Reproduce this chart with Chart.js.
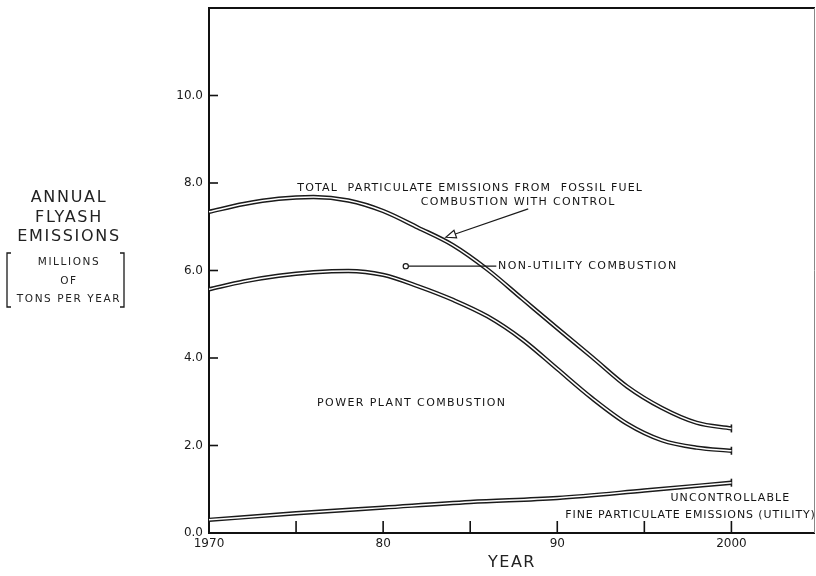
<!doctype html>
<html lang="en">
<head>
  <meta charset="utf-8">
  <title>Annual flyash emissions</title>
  <script src="https://cdn.jsdelivr.net/npm/chart.js@4/dist/chart.umd.min.js"></script>
  <style>
    html, body { margin: 0; padding: 0; background: #fff; overflow: hidden; }
    .grafico { position: relative; width: 816px; height: 576px; }
  </style>
</head>
<body>
<div class="grafico">
  <canvas id="myChart" width="816" height="576"></canvas>
</div>

<script>
// years sampled along the curves
var years = [1970, 1972, 1974, 1976, 1978, 1980, 1982, 1984, 1986, 1988, 1990, 1992, 1994, 1996, 1998, 2000];
// total particulate emissions from fossil fuel combustion with control
var totalControl = [7.34, 7.52, 7.64, 7.68, 7.6, 7.36, 6.98, 6.58, 6.02, 5.35, 4.68, 4.02, 3.35, 2.86, 2.52, 2.39];
// power plant combustion (lower boundary of non-utility band)
var powerPlant = [5.57, 5.75, 5.88, 5.96, 5.99, 5.9, 5.64, 5.33, 4.95, 4.42, 3.75, 3.08, 2.5, 2.12, 1.95, 1.88];
// uncontrollable fine particulate emissions (utility)
var fineYears = [1970, 1975, 1980, 1985, 1990, 1995, 2000];
var fineUtility = [0.3, 0.45, 0.58, 0.71, 0.8, 0.97, 1.15];

var xTicks = [1970, 1975, 1980, 1985, 1990, 1995, 2000];
var yTicks = [0, 2, 4, 6, 8, 10];

function pts(xs, ys) {
  return xs.map(function (x, i) { return {x: x, y: ys[i]}; });
}

// each curve is drawn as a double stroke: dark outer line with a white core on top
function doubleLine(data) {
  var last = data.length - 1;
  return [{
    data: data,
    order: 1,
    borderColor: '#1a1a1a',
    borderWidth: 4.4,
    tension: 0.4,
    cubicInterpolationMode: 'monotone',
    pointStyle: 'line',
    rotation: 90,
    pointBorderColor: '#1a1a1a',
    pointBorderWidth: 1.6,
    pointRadius: function (c) { return c.dataIndex === last ? 4 : 0; },
  }, {
    data: data,
    order: 0,
    borderColor: '#ffffff',
    borderWidth: 1.5,
    tension: 0.4,
    cubicInterpolationMode: 'monotone',
    pointRadius: 0,
  }];
}

function txt(ctx, s, x, y, align, font, spacing) {
  ctx.font = font;
  ctx.letterSpacing = spacing || '0px';
  ctx.textAlign = align;
  ctx.textBaseline = 'middle';
  ctx.fillText(s, x, y);
}

// frame of the plot and the inward tick marks
const frame = {
  id: 'frame',
  beforeDatasetsDraw(chart) {
    const {ctx, chartArea: a, scales: {x, y}} = chart;
    ctx.save();
    ctx.strokeStyle = '#111';
    ctx.lineWidth = 2;
    ctx.beginPath();
    ctx.moveTo(a.right, a.top);
    ctx.lineTo(a.left, a.top);
    ctx.lineTo(a.left, a.bottom);
    ctx.lineTo(a.right, a.bottom);
    ctx.stroke();
    ctx.strokeStyle = '#888';
    ctx.lineWidth = 1;
    ctx.beginPath();
    ctx.moveTo(a.right - 0.5, a.top);
    ctx.lineTo(a.right - 0.5, a.bottom);
    ctx.stroke();

    ctx.strokeStyle = '#111';
    ctx.lineWidth = 1.6;
    x.ticks.forEach(function (t) {
      if (t.value <= x.min) return;
      const px = x.getPixelForValue(t.value);
      ctx.beginPath(); ctx.moveTo(px, a.bottom); ctx.lineTo(px, a.bottom - 12); ctx.stroke();
    });
    y.ticks.forEach(function (t) {
      if (t.value <= y.min) return;
      const py = y.getPixelForValue(t.value);
      ctx.beginPath(); ctx.moveTo(a.left, py); ctx.lineTo(a.left + 9, py); ctx.stroke();
    });
    ctx.restore();
  },
  afterDraw(chart) {
    const {ctx, chartArea: a, scales: {x, y}} = chart;
    const f = '11px "DejaVu Sans"';
    ctx.save();
    ctx.fillStyle = '#151515';
    ctx.strokeStyle = '#1a1a1a';

    // labels inside the plot
    txt(ctx, 'TOTAL  PARTICULATE EMISSIONS FROM  FOSSIL FUEL', x.getPixelForValue(1985.0), y.getPixelForValue(7.89), 'center', f, '1.2px');
    txt(ctx, 'COMBUSTION WITH CONTROL', x.getPixelForValue(1987.76), y.getPixelForValue(7.57), 'center', f, '1.3px');
    txt(ctx, 'NON-UTILITY COMBUSTION', x.getPixelForValue(1986.6), y.getPixelForValue(6.1), 'left', f, '1.4px');
    txt(ctx, 'POWER PLANT COMBUSTION', x.getPixelForValue(1981.64), y.getPixelForValue(2.96), 'center', f, '1.4px');
    txt(ctx, 'UNCONTROLLABLE', x.getPixelForValue(1996.5), y.getPixelForValue(0.8), 'left', f, '1.1px');
    txt(ctx, 'FINE PARTICULATE EMISSIONS (UTILITY)', x.getPixelForValue(1990.46), y.getPixelForValue(0.41), 'left', f, '0.9px');

    // pointer from the open circle to the non-utility label
    const ox = x.getPixelForValue(1981.3), oy = y.getPixelForValue(6.1);
    ctx.lineWidth = 1.2;
    ctx.beginPath(); ctx.arc(ox, oy, 2.6, 0, Math.PI * 2); ctx.stroke();
    ctx.beginPath(); ctx.moveTo(ox + 2.6, oy); ctx.lineTo(x.getPixelForValue(1986.5), oy); ctx.stroke();

    // arrow from the label down to the total curve
    const sx = x.getPixelForValue(1988.33), sy = y.getPixelForValue(7.41);
    const tx = x.getPixelForValue(1983.6), ty = y.getPixelForValue(6.76);
    const ang = Math.atan2(ty - sy, tx - sx);
    const hl = 10, hw = 4;
    const bx = tx - Math.cos(ang) * hl, by = ty - Math.sin(ang) * hl;
    ctx.beginPath(); ctx.moveTo(sx, sy); ctx.lineTo(bx, by); ctx.stroke();
    ctx.beginPath();
    ctx.moveTo(tx, ty);
    ctx.lineTo(bx + Math.sin(ang) * hw, by - Math.cos(ang) * hw);
    ctx.lineTo(bx - Math.sin(ang) * hw, by + Math.cos(ang) * hw);
    ctx.closePath();
    ctx.stroke();

    // axis titles
    const cx = 69;
    ctx.fillStyle = '#222';
    txt(ctx, 'ANNUAL', cx, 198, 'center', '16px "DejaVu Sans"', '1.7px');
    txt(ctx, 'FLYASH', cx, 218, 'center', '16px "DejaVu Sans"', '1.7px');
    txt(ctx, 'EMISSIONS', cx, 237, 'center', '16px "DejaVu Sans"', '1.7px');
    txt(ctx, 'MILLIONS', cx, 262, 'center', '10.5px "DejaVu Sans"', '1.6px');
    txt(ctx, 'OF', cx, 281, 'center', '10.5px "DejaVu Sans"', '1.6px');
    txt(ctx, 'TONS PER YEAR', cx, 299, 'center', '10.5px "DejaVu Sans"', '1.6px');
    ctx.lineWidth = 1.3;
    ctx.beginPath();
    ctx.moveTo(11, 253); ctx.lineTo(7, 253); ctx.lineTo(7, 307); ctx.lineTo(11, 307);
    ctx.moveTo(120, 253); ctx.lineTo(124, 253); ctx.lineTo(124, 307); ctx.lineTo(120, 307);
    ctx.stroke();

    txt(ctx, 'YEAR', (a.left + a.right) / 2, 563, 'center', '16px "DejaVu Sans"', '1.5px');
    ctx.restore();
  }
};

var ctx = document.getElementById('myChart').getContext('2d');
var myChart = new Chart(ctx, {
  type: 'line',
  data: {
    datasets: [].concat(
      doubleLine(pts(years, totalControl)),
      doubleLine(pts(years, powerPlant)),
      doubleLine(pts(fineYears, fineUtility))
    )
  },
  plugins: [frame],
  options: {
    responsive: false,
    animation: false,
    layout: {autoPadding: false, padding: {top: 8, right: 1, left: 0, bottom: 0}},
    plugins: {legend: {display: false}, tooltip: {enabled: false}},
    scales: {
      x: {
        type: 'linear',
        min: 1970,
        max: 2004.8,
        border: {display: false},
        grid: {display: false, drawTicks: false},
        afterBuildTicks: function (s) { s.ticks = xTicks.map(function (v) { return {value: v}; }); },
        afterFit: function (s) { s.height = 43; s.paddingLeft = 0; s.paddingRight = 0; },
        ticks: {
          padding: 4,
          maxRotation: 0,
          autoSkip: false,
          color: '#1a1a1a',
          font: {family: 'DejaVu Sans', size: 12},
          callback: function (v) {
            if (v === 1970 || v === 2000) return String(v);
            return v % 10 === 0 ? String(v % 100) : '';
          }
        }
      },
      y: {
        min: 0,
        max: 12,
        border: {display: false},
        grid: {display: false, drawTicks: false},
        afterBuildTicks: function (s) { s.ticks = yTicks.map(function (v) { return {value: v}; }); },
        afterFit: function (s) { s.width = 209; s.paddingTop = 0; s.paddingBottom = 0; },
        ticks: {
          padding: 6,
          color: '#1a1a1a',
          font: {family: 'DejaVu Sans', size: 12},
          callback: function (v) { return v.toFixed(1); }
        }
      }
    }
  }
});
</script>
</body>
</html>
